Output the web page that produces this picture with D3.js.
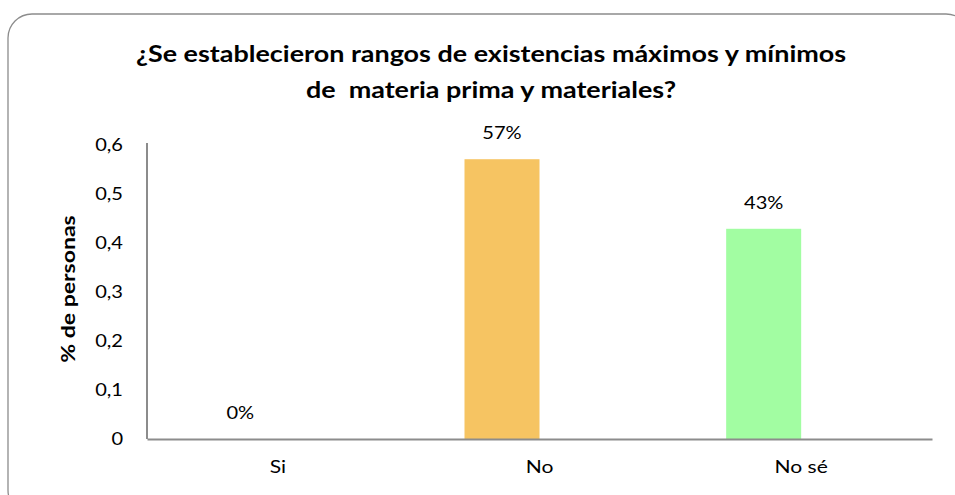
<!DOCTYPE html>
<html><head><meta charset="utf-8">
<script src="https://cdn.jsdelivr.net/npm/d3@7"></script>
<style>body{margin:0;background:#fff;}svg{display:block;}</style>
</head><body>
<svg id="c" width="955" height="495"></svg>
<script>
const categories = ["Si", "No", "No sé"];
const values = [0, 0.571, 0.429];
const labels = ["0%", "57%", "43%"];
const barColors = ["#F6C462", "#F6C462", "#A2FDA2"];
const yTicks = [0, 0.1, 0.2, 0.3, 0.4, 0.5, 0.6];
const titleLines = ["¿Se establecieron rangos de existencias máximos y mínimos", "de  materia prima y materiales?"];
const yTitle = "% de personas";

(function () {
const svg = d3.select("#c");
const font = "Lato, 'Open Sans', sans-serif";

// horizontally widen text (reference font is wider than the available ones)
function stretch(sel, sx) {
  sel.each(function () {
    const t = d3.select(this);
    const x0 = +(t.attr("x") || 0);
    t.attr("x", x0 / sx).attr("transform", `scale(${sx},1)`);
  });
}

svg.append("rect").attr("x", 8).attr("y", 14).attr("width", 962).attr("height", 500)
  .attr("rx", 24).attr("fill", "#fff").attr("stroke", "#8c8c8c").attr("stroke-width", 1.3);

const pLeft = 147, pRight = 932, pTop = 145, pBottom = 439;
const x = d3.scaleBand().domain(categories).range([pLeft, pRight]).padding(0);
const sub = d3.scaleBand().domain(["s1", "s2"]).range([x.bandwidth()/2 - 75, x.bandwidth()/2 + 75]);
const y = d3.scaleLinear().domain([0, 0.6]).range([pBottom, pTop]);

const tg = svg.append("g").attr("font-family", font).attr("font-weight", "bold")
  .attr("font-size", 22).attr("text-anchor", "middle").attr("fill", "#000");
titleLines.forEach((t, i) => tg.append("text").attr("x", 491).attr("y", 62 + i*36).style("white-space", "pre").text(t));
stretch(tg.selectAll("text"), 1.225);

const ya = svg.append("g").attr("transform", `translate(${pLeft},0)`)
  .call(d3.axisLeft(y).tickValues(yTicks).tickSize(0).tickPadding(24)
    .tickFormat(d => d === 0 ? "0" : d3.format(".1f")(d).replace(".", ",")));
ya.select(".domain").attr("stroke", "#8c8c8c").attr("stroke-width", 2)
  .attr("d", `M0,${pTop-2}V${pBottom}`);
ya.selectAll("text").attr("font-family", font).attr("font-size", 17).attr("fill", "#000");
stretch(ya.selectAll("text"), 1.18);

svg.append("g").selectAll("rect").data(categories).join("rect")
  .attr("x", (d) => x(d) + sub("s1"))
  .attr("width", sub.bandwidth())
  .attr("y", (d, i) => y(values[i]))
  .attr("height", (d, i) => y(0) - y(values[i]))
  .attr("fill", (d, i) => barColors[i]);

const dl = svg.append("g").selectAll("text").data(categories).join("text")
  .attr("x", d => x(d) + sub("s1") + sub.bandwidth()/2)
  .attr("y", (d, i) => y(values[i]) - 20)
  .attr("text-anchor", "middle").attr("font-family", font).attr("font-size", 17).attr("fill", "#000")
  .text((d, i) => labels[i]);
stretch(dl, 1.18);

const xa = svg.append("g").attr("transform", `translate(0,${pBottom})`)
  .call(d3.axisBottom(x).tickSize(0).tickPadding(22));
xa.select(".domain").attr("stroke", "#8c8c8c").attr("stroke-width", 2);
xa.selectAll("text").attr("font-family", font).attr("font-size", 17).attr("fill", "#000");
xa.selectAll(".tick").each(function () {
  const tk = d3.select(this);
  const m = /translate\(([-\d.]+)/.exec(tk.attr("transform"));
  tk.select("text").attr("x", 0);
});
stretch(xa.selectAll("text"), 1.24);

const yt = svg.append("g").attr("transform", "translate(75,289) rotate(-90)");
const ytt = yt.append("text")
  .attr("text-anchor", "middle").attr("font-family", font).attr("font-weight", "bold")
  .attr("font-size", 18).text(yTitle);
stretch(ytt, 1.28);
})();
</script>
</body></html>
